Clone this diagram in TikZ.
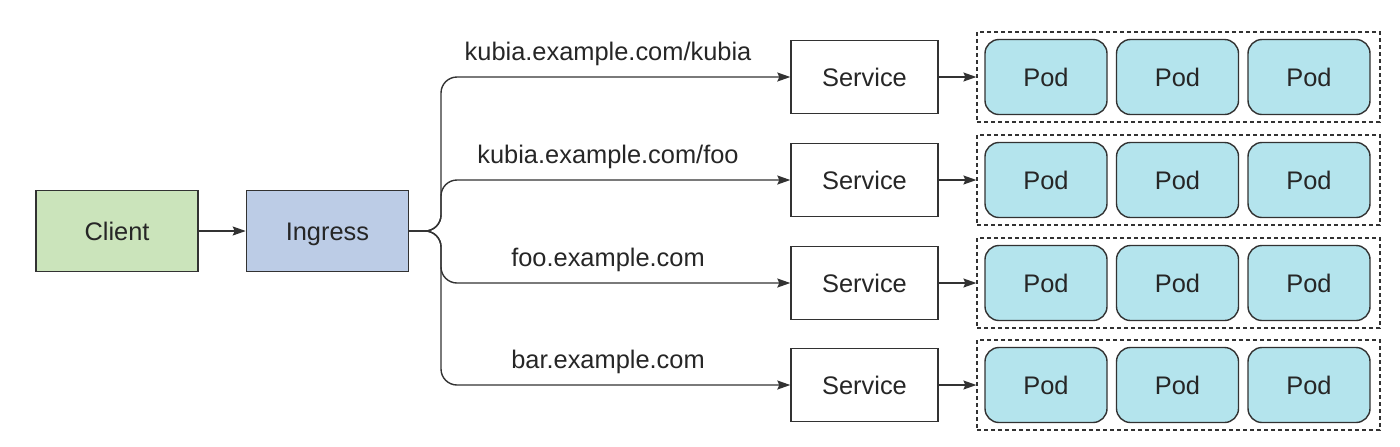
\documentclass[tikz,border=0pt]{standalone}
\usepackage{fontspec}
\setmainfont{Liberation Sans}
\usepackage{xcolor}
\usetikzlibrary{arrows.meta,positioning}

\definecolor{clientgreen}{RGB}{203,228,187}
\definecolor{ingressblue}{RGB}{188,204,230}
\definecolor{podblue}{RGB}{180,228,237}
\definecolor{linegray}{RGB}{50,50,50}

\begin{document}
\begin{tikzpicture}[
  x=0.5pt, y=-0.5pt,
  every node/.style={font=\fontsize{12.7}{15}\selectfont, text=black!85,
    text height=9.2pt, text depth=0pt},
  box/.style={draw=linegray, line width=0.7pt, minimum width=81pt,
    minimum height=40.5pt},
  svc/.style={draw=linegray, line width=0.7pt, minimum width=73.5pt,
    minimum height=36.5pt},
  pod/.style={draw=linegray, fill=podblue, rounded corners=7pt,
    line width=0.7pt, minimum width=61pt, minimum height=37.5pt},
  grp/.style={draw=linegray, dash pattern=on 2pt off 1.5pt,
    line width=0.6pt, minimum width=201.5pt, minimum height=45pt},
  arr/.style={-{Stealth[length=6.5pt, width=4.5pt, inset=1pt]},
    line width=0.7pt, draw=linegray}
]
  \useasboundingbox (0,0) rectangle (1400,446);

  \node[box, fill=clientgreen] (client) at (117,231) {Client};
  \node[box, fill=ingressblue, right=23.5pt of client] (ingress) {Ingress};
  \coordinate (fork) at (441,231);

  \draw[arr] (client) -- (ingress);

  \foreach \r/\y/\host in {a/77/{kubia.example.com/kubia},
      b/180/{kubia.example.com/foo}, c/283/{foo.example.com},
      d/385/{bar.example.com}} {
    \node[svc] (svc\r) at (864.5,\y) {Service};
    \node[grp] (grp\r) at (1178.5,\y) {};
    \node[pod] (pod\r1) at (1046,\y) {Pod};
    \node[pod] (pod\r2) at (1177.5,\y) {Pod};
    \node[pod] (pod\r3) at (1309,\y) {Pod};
    \node (host\r) at (608,\y-26) {\host};

    \draw[arr, rounded corners=8pt] (ingress.east) -- (fork) |- (svc\r.west);
    \draw[arr] (svc\r) -- (grp\r);
  }
\end{tikzpicture}
\end{document}
